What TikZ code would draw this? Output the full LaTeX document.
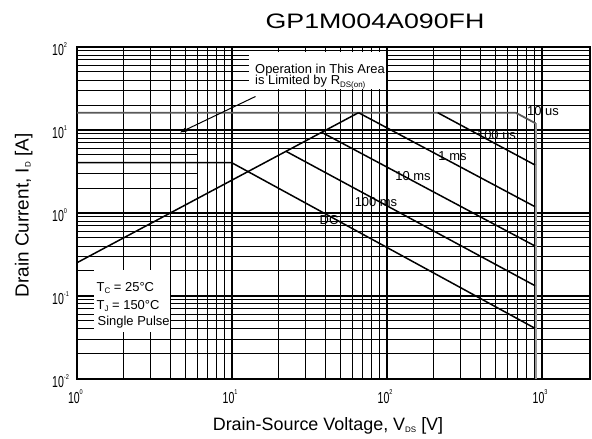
\documentclass[tikz,border=0pt]{standalone}
\usepackage{graphicx}
\usepackage{fontspec}
\setmainfont{Liberation Sans}
\usetikzlibrary{arrows.meta}
\newcommand\lx[1]{77+155*log10(#1)}
\newcommand\ly[1]{379-83*(log10(#1)+2)}
\newcommand\mysub[1]{\raisebox{-2.2bp}{\fontsize{8}{8}\selectfont #1}}
\newcommand\tenpow[1]{\scalebox{0.66}[1]{\fontsize{16}{16}\selectfont 10}\raisebox{8.3bp}{\scalebox{0.8}[1]{\fontsize{7}{7}\selectfont #1}}}
\tikzset{
  gridthin/.style={line width=1bp},
  griddec/.style={line width=2bp},
  frameline/.style={line width=2.6bp},
  soa/.style={line width=1.5bp},
  limline/.style={line width=1.8bp, draw=black!65},
  vline/.style={double=black!40, double distance=2bp, line width=0.8bp},
  lbl/.style={font=\fontsize{13}{13}\selectfont, inner sep=0pt},
  tick/.style={inner sep=0pt},
  whitebox/.style={fill=white, draw=none, inner sep=0pt, anchor=north west},
}
\begin{document}
\begin{tikzpicture}[x=1bp,y=-1bp]
\useasboundingbox (0,0) rectangle (592,439);
% grid
\foreach \d in {1,10,100} \foreach \k in {2,...,9}
  \draw[gridthin] ({\lx{\k*\d}},47) -- ({\lx{\k*\d}},379);
\foreach \d in {0.01,0.1,10} \foreach \k in {2,...,9}
  \draw[gridthin] (77,{\ly{\k*\d}}) -- (590,{\ly{\k*\d}});
\foreach \k in {6,...,9}
  \draw[gridthin] (77,{\ly{\k}}) -- (590,{\ly{\k}});
\foreach \k in {2,3,5}
  \draw[gridthin] (77,{\ly{\k}}) -- (197.6,{\ly{\k}});
\foreach \p in {231.7,386.7,541.7} \draw[griddec] (\p,47) -- (\p,379);
\foreach \p in {130,213,296} \draw[griddec] (77,\p) -- (590,\p);
% white boxes
\node[whitebox, minimum width=137bp, minimum height=37bp] (notebox) at (248.5,51.5) {};
\node[whitebox, minimum width=76bp, minimum height=62bp] (condbox) at (94,269.5) {};
% frame
\draw[frameline] (77,47) rectangle (590,379);
% SOA curves
\coordinate (rdsA) at (77,262.7);
\coordinate (pk) at (358.5,112.7);
\coordinate (iA) at (77,112.7);
\coordinate (tenA) at (515.7,112.7);
\coordinate (tenB) at (535.5,123.3);
\coordinate (vBot) at (535.5,379);
\coordinate (hA) at (437.7,112.7);
\coordinate (hB) at (535,165);
\coordinate (msB) at (535,206.7);
\coordinate (tmA) at (321.7,132.3);
\coordinate (tmB) at (535,246);
\coordinate (hmA) at (286,151.3);
\coordinate (hmB) at (535,285.7);
\coordinate (dcA) at (77,162.7);
\coordinate (dcK) at (231.7,162.7);
\coordinate (dcB) at (535,328.3);
\draw[vline] (tenB) -- (vBot);
\draw[limline] (iA) -- (tenA) -- (tenB);
\draw[soa] (rdsA) -- (pk);
\draw[soa] (pk) -- (msB);
\draw[soa] (hA) -- (hB);
\draw[soa] (tmA) -- (tmB);
\draw[soa] (hmA) -- (hmB);
\draw[soa] (dcA) -- (dcK) -- (dcB);
% curve labels
\node[lbl] (l10us) at (543,111) {10 us};
\node[lbl] (l100us) at (496.5,135.5) {100 us};
\node[lbl] (l1ms) at (452.5,156) {1 ms};
\node[lbl] (l10ms) at (413,176) {10 ms};
\node[lbl] (l100ms) at (376,202) {100 ms};
\node[lbl] (ldc) at (329,220.5) {DC};
% annotation
\node[lbl, anchor=base west] (op1) at (255,73.3) {Operation in This Area};
\node[lbl, anchor=base west] (op2) at (255,85) {is Limited by R\mysub{DS(on)}};
\coordinate (arrS) at (255.5,96.5);
\coordinate (arrE) at (180,132.5);
\draw[line width=1bp, -{Stealth[length=7bp,width=4.5bp]}] (arrS) -- (arrE);
% conditions
\node[lbl, anchor=base west] (tc) at (96.5,291.5) {T\mysub{C} = 25°C};
\node[lbl, anchor=base west] (tj) at (96.5,309.5) {T\mysub{J} = 150°C};
\node[lbl, anchor=base west] (sp) at (97.5,325.5) {Single Pulse};
% ticks
\foreach \p/\e in {77/0, 231.7/1, 386.7/2, 541.7/3}
  \node[tick, anchor=base west] (xt\e) at (\p-9.2,403) {\tenpow{\e}};
\foreach \p/\e/\n in {47/2/a, 130/1/b, 213/0/c, 296/{-1}/d, 379/{-2}/e}
  \node[tick, anchor=base west] (yt\n) at (52,\p+8.5) {\tenpow{\e}};
% titles
\node[inner sep=0pt, anchor=base] (title) at (375,28.3) {\scalebox{1.28}[1]{\fontsize{21}{21}\selectfont GP1M004A090FH}};
\node[inner sep=0pt, anchor=base] (xlab) at (328,430) {\fontsize{18}{18}\selectfont Drain-Source Voltage, V\mysub{DS} [V]};
\node[inner sep=0pt, anchor=base, rotate=90] (ylab) at (28.5,215.5) {\fontsize{19}{19}\selectfont Drain Current, I\mysub{D} [A]};
\end{tikzpicture}
\end{document}
